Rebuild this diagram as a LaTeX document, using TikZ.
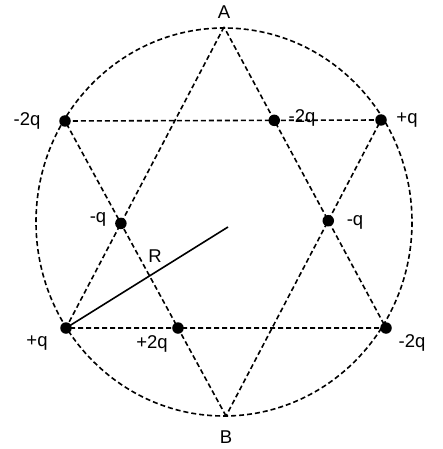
\documentclass[tikz,border=0pt]{standalone}
\usepackage{fontspec}
\setmainfont{Liberation Sans}
\begin{document}
\begin{tikzpicture}[x=1pt,y=-1pt,
  dline/.style={line width=1.6pt,dash pattern=on 5pt off 3pt},
  charge/.style={circle,fill=black,inner sep=0pt,minimum size=11.5pt},
  lbl/.style={font=\fontsize{18.5}{20}\selectfont,inner sep=0pt}]
\useasboundingbox (0,0) rectangle (443,449);
% vertices
\coordinate (A) at (224,27);
\coordinate (B) at (226,416);
\coordinate (TL) at (65,121);
\coordinate (TR) at (381,120);
\coordinate (BL) at (66,328);
\coordinate (BR) at (386,328);
\coordinate (O) at (228,227);
% circle
\draw[dline] (224,222) ellipse [x radius=188, y radius=194];
% hexagram
\draw[dline] (A) -- (BL) -- (BR) -- cycle;
\draw[dline] (B) -- (TL) -- (TR) -- cycle;
% radius
\draw[line width=1.6pt] (BL) -- (O);
% charges
\node[charge] (qTL) at (TL) {};
\node[charge] (qTR) at (TR) {};
\node[charge] (qBL) at (BL) {};
\node[charge] (qBR) at (BR) {};
\node[charge] (qT) at (intersection of A--BR and TL--TR) {};
\node[charge] (qL) at (intersection of A--BL and TL--B) {};
\node[charge] (qR) at (intersection of A--BR and TR--B) {};
\node[charge] (qB) at (intersection of BL--BR and TL--B) {};
% labels
\node[lbl] (lA) at (224,12) {A};
\node[lbl] (lB) at (226,437) {B};
\node[lbl] (lTL) at (27,121) {-2q};
\node[lbl] (lTR) at (407,120) {+q};
\node[lbl] (lT) at (302,118) {-2q};
\node[lbl] (lL) at (98,219) {-q};
\node[lbl] (lR) at (355,222) {-q};
\node[lbl] (lRad) at (155,256) {R};
\node[lbl] (lBL) at (37,343) {+q};
\node[lbl] (lB2) at (152,344) {+2q};
\node[lbl] (lBR) at (412,343) {-2q};
\end{tikzpicture}
\end{document}
